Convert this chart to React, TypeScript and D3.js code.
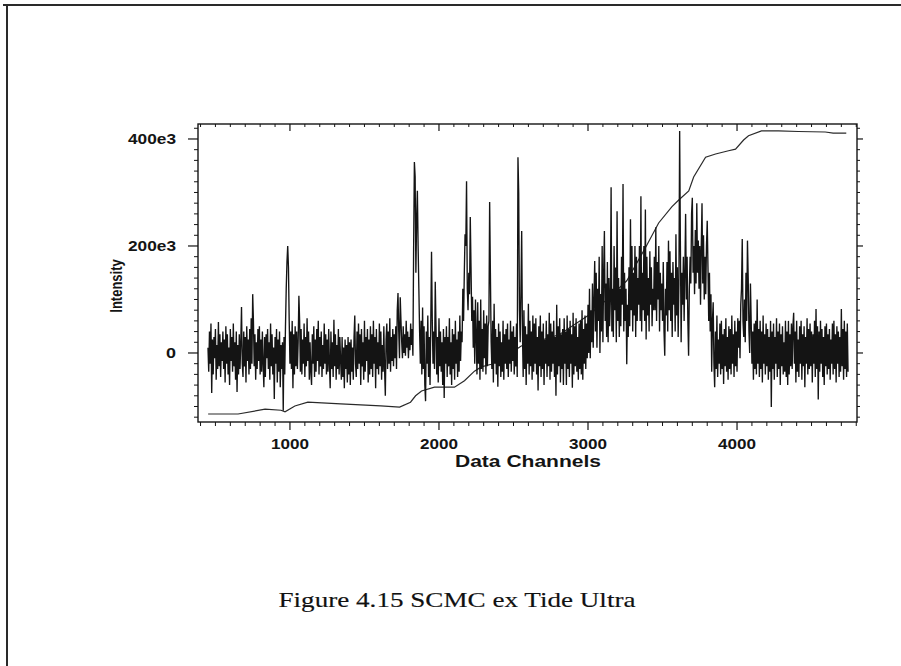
import React from 'react';
import * as d3 from 'd3';

// ---- Data (intensities in thousands) ----
// One value every 5 data channels, starting at channel 450 (20 values = 100 channels per row)
const signalStart = 450;
const signalStep = 5;
const signalK = [
  10, -35, 40, -20, 55, -75, 25, -40, 30, -10, 45, -50, 15, -30, 58, -25, 35, -45, 20, -15,
  40, -30, 25, -55, 50, -20, 35, -40, 10, -60, 45, -15, 30, -35, 55, -25, 20, -50, 40, -73,
  15, -40, 35, -30, 20, 86, -20, -45, 40, -25, 30, -55, 50, -15, 25, -40, 45, -30, 65, -20,
  110, 60, -25, 35, -50, 20, -30, 45, -15, 50, -40, 25, -35, 40, -20, -64, 30, -45, 35, -10,
  45, -30, 20, -50, 55, -25, 35, -40, 10, -86, 30, -20, 45, -55, 25, -35, 40, -64, 15, -30,
  20, -108, 30, -40, 50, 120, 170, 200, 160, 60, -20, 40, -30, 60, -66, 35, -40, 50, -25, 40,
  -30, 20, 107, 60, -35, 45, -40, 25, -20, 55, -45, 30, -25, 65, -15, 40, -50, 20, -35, -60,
  35, -20, 50, -45, 25, -35, 45, -15, 60, -40, 30, -25, 40, -45, 15, -30, 55, -20, 35, -40,
  25, -35, 45, -20, -66, 40, -30, 20, -45, 62, -25, 35, -50, 15, -30, 45, -40, 30, -15, -50,
  30, -45, 10, -66, 25, -30, 15, -55, 30, -40, 20, -60, 25, -35, 10, -50, 30, 70, -20, -45,
  40, -30, 55, -20, 35, -60, 45, -25, 20, -50, 60, -35, 30, -15, 45, -55, 25, -40, 50, -30,
  35, -45, 60, -20, 30, -66, 45, -30, 20, -40, 55, -25, 40, -50, 15, -35, 50, -30, -80, 25,
  55, -30, 40, -20, 65, -35, 30, -15, 45, -25, 35, -10, 50, -30, 80, 112, 40, -10, 104, 60,
  20, -10, 50, 0, 35, -5, 60, 10, 40, -10, 30, 5, 55, 15, 45, -5, 200, 357, 330, 150,
  250, 303, 200, 120, 40, -20, 60, -40, 85, -30, 50, -60, -90, 40, -20, 70, -45, 30, -60, 55,
  189, 60, -20, 40, -30, 133, 50, -40, 30, -55, 65, -25, 40, -35, 20, -60, 45, -84, 30, -20,
  50, -45, 30, -25, 65, -40, 20, -60, 45, -30, 35, -50, 60, -20, 25, -45, 40, -35, 70, -15,
  40, 20, 120, 60, 150, 222, 200, 321, 120, 80, 150, 110, 254, 160, 60, 105, 10, 80, -20, 100,
  30, -40, 95, -20, 60, -50, 100, -30, 45, -35, 80, -10, 55, -40, 70, -25, 50, 60, 282, 150,
  20, -30, 60, -55, 92, -20, 45, -40, 30, -63, 55, -25, 40, -45, 20, -35, 60, -50, 35, -20,
  45, -30, 55, -45, 25, -20, 60, -35, 40, -15, 50, -40, 30, -25, 55, -45, 366, 300, 80, 20,
  120, 228, 40, -45, 80, -30, 50, -60, 35, -20, 92, -40, 60, -25, 40, -50, 70, -35, 55, -20,
  65, -40, 30, -70, 50, -25, 70, -45, 40, -30, 55, -60, 25, -20, 60, -45, 35, -25, 75, -50,
  55, -35, 40, -20, 60, -45, 30, -80, 90, -40, 50, -25, 65, -55, 35, -30, 45, -60, 65, -20,
  40, -60, 70, -30, 45, -45, 60, -20, 35, -65, 75, -40, 50, -25, 65, -35, 30, -50, 55, -30,
  60, -40, 80, -50, 45, -20, 70, -30, 55, -10, 90, 0, 120, -10, 80, 20, 130, 10, 100, 172,
  40, 150, 10, 120, 60, 180, 0, 110, 40, 200, 20, 150, 228, 60, 130, 30, 170, 20, 140, 50,
  100, 310, 40, 120, 30, 200, 80, 160, 20, 265, 60, 140, 30, 120, 50, 180, 90, 316, 40, 150,
  60, 120, -21, 90, 30, 160, 50, 250, 80, 200, 40, 150, 70, 200, 30, 180, 60, 140, 90, 200,
  60, 293, 40, 150, 80, 200, 60, 268, 25, 180, 70, 140, 40, 190, 90, 160, 50, 120, 80, 180,
  80, 235, 60, 170, 100, 200, 40, 150, 80, 130, 60, 170, 40, -5, 120, 70, 170, 40, 210, 80,
  190, 60, 150, 30, 170, 90, 140, 40, 222, 70, 160, 30, 130, 415, 200, 20, 150, 90, 180, 60,
  150, 260, 100, 180, 60, -5, 120, 180, 130, 260, 290, 150, 200, 110, 230, 130, 280, 150, 210, 120,
  200, 90, 200, 280, 130, 220, 100, 180, 110, 200, 247, 160, 60, 150, 40, 110, -35, 60, 95, -20,
  -64, 40, -30, 70, -45, 25, -20, 55, -40, 60, -30, 35, -58, 45, -25, 65, -35, 30, -50, 50,
  -30, 45, -40, 70, -20, 35, -45, 60, -25, 40, -35, 65, 10, 60, -10, 90, 120, 213, 60, 30,
  100, 20, 150, 60, 210, 140, 40, 0, 130, 60, -20, 40, -50, 55, -30, 60, -40, 100, -20, 45,
  -45, 60, -30, 40, -55, 70, -20, 35, -40, 55, -25, 45, -50, 30, -35, 60, -101, 40, -30, 55,
  -50, 30, -20, 65, -45, 40, -30, 55, -60, 35, -25, 50, -40, 20, -35, 60, -45, 40, -60, 60,
  -40, 35, -25, 55, -30, 50, 75, -20, 40, -55, 60, -35, 25, -45, 50, -20, 60, -50, 35, -25,
  50, -64, 30, -20, 65, -40, 45, -30, 55, -25, 40, -55, 35, -20, 60, -45, 82, -30, 50, -87,
  40, -35, 60, -20, 45, -45, 30, -60, 50, -25, 55, -40, 35, -30, 45, -50, 25, -20, 55, -40,
  60, -30, 35, -55, 50, -20, 40, -45, 30, -35, 82, -25, 45, -50, 60, -30, 40, -45, 55, -35,
];

const cumChannels = [
  451, 652, 833, 940, 967, 1033, 1120, 1341, 1609, 1736, 1809, 1843, 1883, 1970, 2104, 2171,
  2238, 2284, 2351, 2418, 2505, 2552, 2806, 3006, 3140, 3260, 3388, 3474, 3562, 3609, 3676,
  3709, 3789, 3856, 3943, 3990, 4044, 4077, 4164, 4278, 4411, 4592, 4645, 4733,
];
const cumK = [
  -114, -114, -105, -107, -110, -99, -92, -95, -99, -101, -92, -80, -71, -64, -64, -52,
  -34, -26, -21, -7, 4, 13, 34, 71, 103, 135, 198, 243, 273, 286, 303,
  329, 366, 372, 378, 381, 398, 406, 415, 415, 414, 413, 411, 411,
];

const xMajorTicks = [1000, 2000, 3000, 4000];
const xTickLabels = ['1000', '2000', '3000', '4000'];
const yMajorTicks = [0, 200000, 400000];
const yTickLabels = ['0', '200e3', '400e3'];
const xAxisTitle = 'Data Channels';
const yAxisTitle = 'Intensity';
const caption = 'Figure 4.15 SCMC ex Tide Ultra';

const W = 901;
const H = 666;
const ink = '#141414';

export default function App() {
  const left = 198, right = 857, top = 124, bottom = 422;
  const x = d3.scaleLinear().domain([383, 4805]).range([left, right]);
  const y = d3.scaleLinear().domain([-129000, 428000]).range([bottom, top]);

  const signalLine = d3
    .line<number>()
    .x((_, i) => x(signalStart + i * signalStep))
    .y((d) => y(d * 1000));
  const cumLine = d3
    .line<number>()
    .x((_, i) => x(cumChannels[i]))
    .y((d) => y(d * 1000));

  const xMinor = d3.range(400, 4801, 100).filter((v) => !xMajorTicks.includes(v));
  const yMinor = d3.range(-120000, 428001, 20000).filter((v) => !yMajorTicks.includes(v));

  const sansBold = { fontFamily: 'Liberation Sans, Arial, sans-serif', fontWeight: 700 } as const;

  return (
    <svg
      width={W}
      height={H}
      viewBox={`0 0 ${W} ${H}`}
      style={{ position: 'absolute', left: 0, top: 0, background: '#fff' }}
    >
      <rect x={0} y={0} width={W} height={H} fill="#fff" />
      {/* page border */}
      <line x1={3} x2={W} y1={5} y2={5} stroke="#2a2a2a" strokeWidth={2} />
      <line x1={7} x2={7} y1={4} y2={H} stroke="#2a2a2a" strokeWidth={2} />

      {/* data */}
      <path d={cumLine(cumK) || ''} fill="none" stroke="#2a2a2a" strokeWidth={1.2} />
      <path d={signalLine(signalK) || ''} fill="none" stroke={ink} strokeWidth={1.35} strokeLinejoin="bevel" />

      {/* frame */}
      <rect x={left} y={top} width={right - left} height={bottom - top} fill="none" stroke={ink} strokeWidth={1.4} />

      {/* x ticks bottom (outward) and top (inward) */}
      {xMinor.map((v) => (
        <g key={'xm' + v}>
          <line x1={x(v)} x2={x(v)} y1={bottom} y2={bottom + 4} stroke={ink} strokeWidth={1} />
          <line x1={x(v)} x2={x(v)} y1={top} y2={top + 3} stroke={ink} strokeWidth={1} />
        </g>
      ))}
      {xMajorTicks.map((v, i) => (
        <g key={'xM' + v}>
          <line x1={x(v)} x2={x(v)} y1={bottom} y2={bottom + 8} stroke={ink} strokeWidth={1.2} />
          <line x1={x(v)} x2={x(v)} y1={top} y2={top + 7} stroke={ink} strokeWidth={1.2} />
          <text
            x={x(v)}
            y={449}
            textAnchor="middle"
            fontSize={14}
            textLength={38}
            lengthAdjust="spacingAndGlyphs"
            fill={ink}
            {...sansBold}
          >
            {xTickLabels[i]}
          </text>
        </g>
      ))}

      {/* y ticks left (outward) and right (outward) */}
      {yMinor.map((v) => (
        <g key={'ym' + v}>
          <line x1={left - 4} x2={left} y1={y(v)} y2={y(v)} stroke={ink} strokeWidth={1} />
          <line x1={right} x2={right + 3} y1={y(v)} y2={y(v)} stroke={ink} strokeWidth={1} />
        </g>
      ))}
      {yMajorTicks.map((v, i) => (
        <g key={'yM' + v}>
          <line x1={left - 10} x2={left} y1={y(v)} y2={y(v)} stroke={ink} strokeWidth={1.2} />
          <line x1={right} x2={right + 6} y1={y(v)} y2={y(v)} stroke={ink} strokeWidth={1.2} />
          <text
            x={176}
            y={y(v) + 5.5}
            textAnchor="end"
            fontSize={14}
            textLength={yTickLabels[i].length === 1 ? 10 : 48}
            lengthAdjust="spacingAndGlyphs"
            fill={ink}
            {...sansBold}
          >
            {yTickLabels[i]}
          </text>
        </g>
      ))}

      {/* axis titles */}
      <text
        x={528}
        y={467}
        textAnchor="middle"
        fontSize={17}
        textLength={146}
        lengthAdjust="spacingAndGlyphs"
        fill={ink}
        {...sansBold}
      >
        {xAxisTitle}
      </text>
      <text
        transform="translate(122,286) scale(1.25,1) rotate(-90)"
        textAnchor="middle"
        fontSize={13}
        fill={ink}
        {...sansBold}
      >
        {yAxisTitle}
      </text>

      {/* caption */}
      <text
        x={457}
        y={607}
        textAnchor="middle"
        fontSize={21.5}
        textLength={357}
        lengthAdjust="spacingAndGlyphs"
        fill="#111"
        stroke="#111"
        strokeWidth={0.15}
        fontFamily="Liberation Serif, Times New Roman, serif"
      >
        {caption}
      </text>
    </svg>
  );
}
